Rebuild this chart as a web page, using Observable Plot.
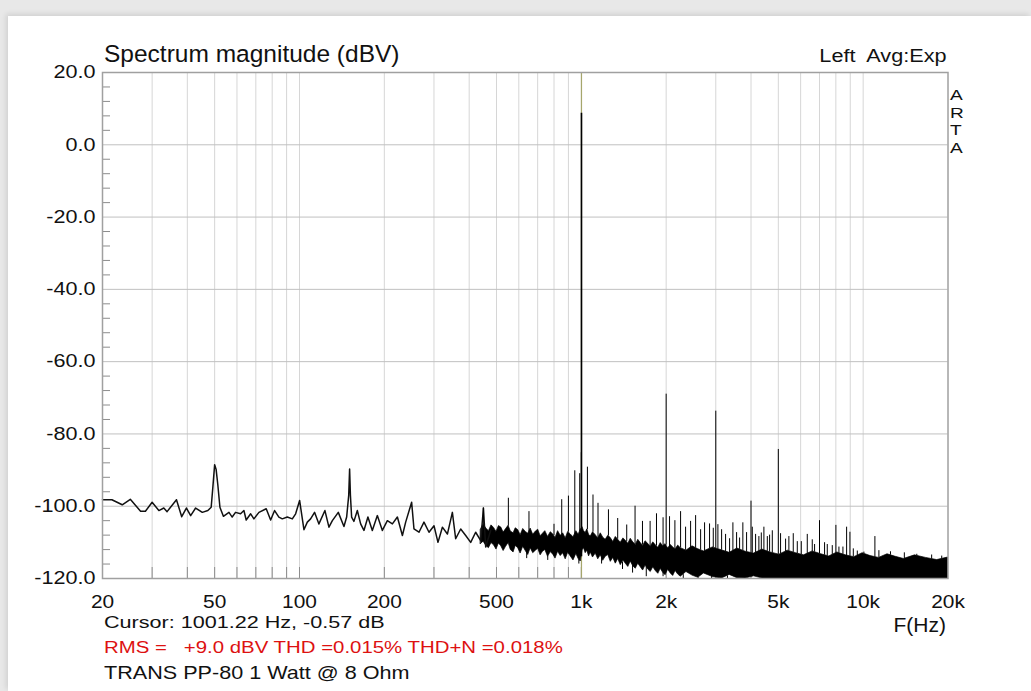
<!DOCTYPE html>
<html><head><meta charset="utf-8">
<script src="https://cdn.jsdelivr.net/npm/d3@7"></script>
<script src="https://cdn.jsdelivr.net/npm/@observablehq/plot@0.6"></script>
<style>
html,body{margin:0;padding:0;background:#e8e8e8;width:1031px;height:691px;overflow:hidden;font-family:"Liberation Sans",Arial,sans-serif}
#panel{position:absolute;left:8px;top:16px;right:0;bottom:0;background:#fff;box-shadow:-2px -2px 5px rgba(0,0,0,0.10)}
#chart{position:absolute;left:0;top:0;width:1031px;height:691px}
</style></head>
<body><div id="panel"></div><div id="chart"></div>
<script>
// ---- data ----
const lowFreq = [20,21.6,23.5,25.1,27.3,28.4,30.0,31.7,33.0,33.9,36.6,38.2,39.7,41.1,42.8,45.2,47.3,48.6,49.3,50.0,50.6,51.3,52.2,53.7,56.2,57.7,59.3,61.8,63.5,64.7,67.1,68.9,71.8,76.2,79.0,81.6,84.5,86.9,90.5,94.3,96.9,100.1,103.7,106.6,109.5,113.1,117.2,123.1,127.2,130.8,137.3,143.8,147.0,149.5,150.6,151.6,153.1,156.0,160.4,164.8,169.3,174.9,181.3,188.9,196.8,205.0,213.6,222.5,231.8,238.1,250.0,254.8,265.4,276.5,288.1,300.1,310.0,321.4,334.8,348.7,358.2,373.2,388.8,405.0,421.8,439.6,449.4,457.8,476.9];
const lowDb   = [-98.2,-98.2,-99.6,-98.1,-101.4,-101.4,-98.9,-101.2,-100.5,-101.5,-98.2,-102.9,-100.5,-102.6,-100.5,-101.7,-101.2,-100.3,-94.5,-88.5,-89.8,-94.0,-100.3,-102.8,-101.7,-103.0,-101.7,-102.1,-101.2,-103.8,-102.1,-103.5,-101.7,-100.7,-103.8,-101.2,-103.0,-103.5,-103.0,-103.5,-102.1,-98.4,-106.5,-104.4,-103.5,-101.7,-104.9,-101.2,-105.8,-104.0,-101.7,-105.6,-103.0,-97.0,-89.7,-97.0,-103.0,-104.2,-101.2,-104.9,-106.7,-103.0,-106.7,-102.6,-106.7,-104.0,-104.9,-103.0,-108.1,-104.4,-98.9,-106.3,-107.2,-104.4,-107.2,-105.4,-110.0,-105.8,-107.7,-101.7,-109.0,-106.3,-108.1,-110.0,-107.2,-109.5,-100.5,-111.3,-106.7];

const bandFreq = [440,450,460,470,480,490,500,510,520,530,540,552,562,575,585,597,609,622,635,648,661,675,690,703,717,731,745,762,779,795,810,827,845,862,880,898,917,938,960,978,995,1010,1022,1036,1050,1065,1080,1100,1125,1148,1172,1196,1220,1246,1272,1298,1325,1352,1380,1410,1440,1468,1497,1528,1560,1592,1625,1657,1690,1726,1763,1800,1840,1876,1913,1950,1990,2033,2076,2118,2160,2206,2253,2360,2480,2600,2722,2930,3150,3360,3576,3830,4100,4390,4694,5040,5400,5780,6163,6620,7100,7580,8096,8680,9300,9950,10626,11380,12200,13050,13950,15260,16700,18300,20000];
const bandHi   = [-106.5,-105.0,-106.2,-106.9,-105.3,-106.0,-107.1,-105.5,-105.9,-107.3,-106.4,-105.4,-107.0,-107.5,-106.1,-106.6,-108.0,-106.3,-107.1,-107.6,-106.2,-107.9,-107.0,-106.5,-108.3,-107.6,-106.9,-108.5,-107.2,-107.8,-108.8,-106.9,-108.2,-107.5,-108.9,-107.1,-107.8,-108.6,-106.9,-107.9,-106.5,-105.8,-106.9,-107.4,-106.4,-107.9,-108.4,-107.2,-108.0,-108.9,-107.5,-108.7,-109.3,-108.2,-108.8,-109.9,-108.5,-109.3,-110.1,-108.9,-109.6,-110.4,-109.0,-110.0,-110.7,-109.3,-110.2,-111.0,-109.7,-110.4,-111.2,-110.0,-110.9,-111.5,-110.2,-111.1,-110.5,-111.7,-110.7,-111.4,-112.0,-110.9,-111.6,-112.3,-111.1,-111.9,-112.5,-111.4,-112.2,-112.9,-111.7,-112.6,-113.1,-112.0,-112.8,-113.4,-112.3,-113.0,-113.6,-112.5,-113.3,-113.9,-112.8,-113.6,-114.1,-113.0,-113.8,-114.3,-113.3,-114.0,-114.6,-113.6,-114.3,-114.9,-114.2];
const bandLo   = [-110.5,-109.8,-111.0,-111.6,-110.2,-110.8,-112.0,-110.3,-111.1,-112.4,-111.3,-110.2,-112.1,-112.8,-111.0,-111.6,-113.1,-111.2,-112.4,-113.5,-111.6,-113.0,-112.3,-111.8,-113.6,-112.6,-112.1,-114.0,-112.7,-113.4,-114.5,-112.6,-113.8,-113.0,-114.7,-112.9,-113.9,-115.0,-113.2,-114.6,-115.3,-112.2,-111.6,-113.0,-112.3,-113.9,-112.8,-114.2,-113.1,-114.7,-113.6,-115.1,-114.0,-113.5,-115.4,-114.3,-115.9,-114.6,-116.3,-115.0,-116.0,-116.8,-115.3,-116.6,-117.3,-115.9,-116.9,-117.8,-116.4,-117.5,-118.2,-116.9,-118.0,-118.7,-117.3,-118.4,-119.1,-117.6,-118.6,-119.3,-117.9,-118.9,-119.5,-118.2,-119.2,-119.8,-118.6,-119.6,-120,-119.0,-119.9,-120,-119.4,-120,-120,-120,-120,-120,-120,-120,-120,-120,-120,-120,-120,-120,-120,-120,-120,-120,-120,-120,-120,-120,-120];

const dipFreq = [640,760,980,1180,1400,1520,1700,1950,2300,2600,2900,3300];
const dipDb   = [-114.5,-115.0,-116.0,-116.0,-117.5,-118.5,-119.5,-119.5,-120,-120,-120,-120];

const spikeFreq = [449,551,652,800,852,900,948,987,1000,1051,1100,1146,1248,1346,1449,1551,1648,1754,1848,1950,2000,2056,2148,2250,2344,2442,2544,2650,2737,2851,2939,3000,3052,3146,3250,3358,3450,3556,3644,3742,3858,4000,4042,4153,4266,4351,4444,4570,4656,4760,5000,5093,5306,5451,5649,5838,6032,6334,6598,6724,7000,7296,7459,7770,8003,8204,8477,8736,8975,9226,9533,10062,11006,11372,12500,14000,15500,17500,19000];
const spikeDb   = [-100.5,-97.8,-101.5,-105.0,-98.2,-97.2,-90.2,-91.0,-85.2,-89.2,-96.9,-99.2,-101.0,-103.4,-105.2,-100.0,-104.2,-104.2,-102.1,-103.2,-69.0,-102.9,-104.0,-101.5,-105.8,-104.2,-102.6,-106.5,-104.6,-104.9,-106.1,-73.7,-105.1,-106.5,-107.8,-109.0,-104.6,-107.3,-108.8,-104.6,-107.3,-98.6,-105.8,-107.8,-108.4,-107.4,-105.8,-108.4,-108.0,-106.8,-84.3,-107.6,-109.1,-108.4,-107.6,-109.8,-109.8,-107.8,-109.3,-110.6,-104.0,-110.1,-110.6,-110.9,-105.3,-111.3,-111.3,-105.8,-107.2,-111.8,-112.4,-112.7,-108.4,-112.3,-112.6,-112.9,-113.3,-113.5,-113.8];

const fundFreq = [1001.22];
const fundDb = [8.7];
const cursorFreq = [1001.22];

const gridFreqs = [30,40,50,60,70,80,90,100,200,300,400,500,600,700,800,900,1000,2000,3000,4000,5000,6000,7000,8000,9000,10000];
const gridDb = [-100,-80,-60,-40,-20,0];
const minorDb = [-116,-112,-108,-104,-96,-92,-88,-84,-76,-72,-68,-64,-56,-52,-48,-44,-36,-32,-28,-24,-16,-12,-8,-4,4,8,12,16];
const yTicks = [-120,-100,-80,-60,-40,-20,0,20];
const xTicks = [20,50,100,200,500,1000,2000,5000,10000,20000];
const xTickLabels = ["20","50","100","200","500","1k","2k","5k","10k","20k"];

// ---- tables ----
const low = lowFreq.map((f,i)=>({f, db: lowDb[i]}));
const band = bandFreq.map((f,i)=>({f, hi: bandHi[i], lo: bandLo[i]}));
const spikes = spikeFreq.map((f,i)=>({f, db: spikeDb[i]}));
const dips = dipFreq.map((f,i)=>({f, db: dipDb[i]}));
const fund = fundFreq.map((f,i)=>({f, db: fundDb[i]}));
const xLab = xTicks.map((f,i)=>({f, label: xTickLabels[i]}));
const baseHi = d3.scaleLog().domain(bandFreq).range(bandHi).clamp(true);
const baseLo = d3.scaleLog().domain(bandFreq).range(bandLo).clamp(true);

// ---- layout ----
const W = 1031, H = 691, mL = 102, mR = 83.5, mT = 72, mB = 113;
const plotW = W - mL - mR, plotH = H - mT - mB;
const FONT = "'Liberation Sans', Arial, sans-serif";

const chart = Plot.plot({
  width: W, height: H,
  marginLeft: mL, marginRight: mR, marginTop: mT, marginBottom: mB,
  style: {background: "transparent", fontFamily: FONT, color: "#111", overflow: "visible"},
  x: {type: "log", domain: [20, 20000], axis: null},
  y: {domain: [-120, 20]},
  marks: [
    Plot.ruleX(gridFreqs, {stroke: "#d6d6d6", strokeWidth: 1}),
    Plot.ruleY(gridDb, {stroke: "#c0c0c0", strokeWidth: 1}),
    Plot.tickY(minorDb, {stroke: "#8c8c8c", insetRight: plotW - 8}),
    Plot.tickX(gridFreqs, {stroke: "#8c8c8c", insetTop: plotH - 11}),
    Plot.ruleX(cursorFreq, {stroke: "#a6a66c", strokeWidth: 1.2}),
    Plot.areaY(band, {x: "f", y1: "lo", y2: "hi", fill: "#000", stroke: "#000", strokeWidth: 0.7}),
    Plot.line(low, {x: "f", y: "db", stroke: "#111", strokeWidth: 1.5}),
    Plot.ruleX(spikes, {x: "f", y1: d => baseHi(d.f), y2: "db", stroke: "#000", strokeWidth: 1}),
    Plot.ruleX(dips, {x: "f", y1: d => baseLo(d.f), y2: "db", stroke: "#000", strokeWidth: 1}),
    Plot.ruleX(fund, {x: "f", y1: -114, y2: "db", stroke: "#000", strokeWidth: 1.6}),
    Plot.frame({stroke: "#a0a0a0", strokeWidth: 1.5}),
    Plot.axisY({ticks: yTicks, tickFormat: d => d.toFixed(1), tickSize: 0, tickPadding: 7, fontSize: 18, label: null}),
    Plot.text(xLab, {x: "f", text: "label", frameAnchor: "bottom", lineAnchor: "top", dy: 16.5, fontSize: 18, fill: "#111"})
  ]
});
document.getElementById("chart").appendChild(chart);

function stretch(t, s) {
  const tr = t.getAttribute("transform");
  if (tr) t.setAttribute("transform", tr + ` scale(${s},1)`);
}
chart.querySelectorAll('g[aria-label="y-axis tick label"] text').forEach(t => stretch(t, 1.2));
chart.querySelectorAll('g[aria-label="text"] text').forEach(t => stretch(t, 1.16));

// ---- texts ----
const svg = d3.select(chart);
function addText(str, x, y, size, {anchor = "start", sx = 1, fill = "#111"} = {}) {
  return svg.append("text")
    .attr("transform", `translate(${x},${y}) scale(${sx},1)`)
    .attr("text-anchor", anchor)
    .attr("font-family", FONT)
    .attr("font-size", size)
    .attr("fill", fill)
    .style("white-space", "pre")
    .text(str);
}
addText("Spectrum magnitude (dBV)", 104, 62, 24.5);
addText("Left  Avg:Exp", 946.5, 62, 19, {anchor: "end", sx: 1.14});
["A","R","T","A"].forEach((c, i) => addText(c, 950, 100 + i * 17.7, 15.3, {sx: 1.25}));
addText("F(Hz)", 946, 632, 21, {anchor: "end"});
addText("Cursor: 1001.22 Hz, -0.57 dB", 104, 628, 17, {sx: 1.27});
addText("RMS =   +9.0 dBV THD =0.015% THD+N =0.018%", 104, 653, 17, {sx: 1.2, fill: "#dd1111"});
addText("TRANS PP-80 1 Watt @ 8 Ohm", 104, 678.5, 18, {sx: 1.2});
</script>
</body></html>
